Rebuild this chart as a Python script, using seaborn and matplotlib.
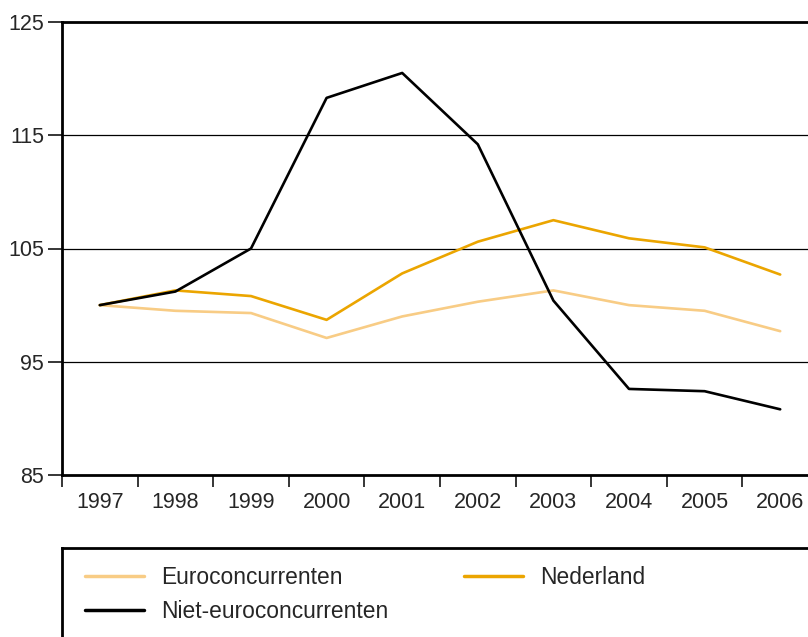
import numpy as np
import pandas as pd
import matplotlib
matplotlib.use("Agg")
import matplotlib.pyplot as plt
from matplotlib.lines import Line2D
import seaborn as sns

years = [1997, 1998, 1999, 2000, 2001, 2002, 2003, 2004, 2005, 2006]
euro = [100.0, 99.5, 99.3, 97.1, 99.0, 100.3, 101.3, 100.0, 99.5, 97.7]
nederland = [100.0, 101.3, 100.8, 98.7, 102.8, 105.6, 107.5, 105.9, 105.1, 102.7]
niet_euro = [100.0, 101.2, 105.0, 118.3, 120.5, 114.2, 100.4, 92.6, 92.4, 90.8]

series_names = ["Euroconcurrenten", "Nederland", "Niet-euroconcurrenten"]
colors = {"Euroconcurrenten": "#F8CC85",
          "Nederland": "#EBA500",
          "Niet-euroconcurrenten": "#000000"}

df = pd.DataFrame({"jaar": years * 3,
                   "index": euro + nederland + niet_euro,
                   "reeks": np.repeat(series_names, len(years))})

sns.set_style("white")
plt.rcParams['font.family'] = ['Liberation Sans', 'DejaVu Sans']

fig = plt.figure(figsize=(8.08, 6.37), dpi=100)
ax = fig.add_axes([62/808, 162/637, 756/808, 453/637])

sns.lineplot(data=df, x="jaar", y="index", hue="reeks", palette=colors,
             hue_order=series_names, linewidth=1.9, ax=ax, legend=False)

ax.set_xlim(1996.5, 2006.5)
ax.set_ylim(85, 125)
ax.set_yticks([85, 95, 105, 115, 125])
ax.set_xticks(years)
ax.set_xticks(np.arange(1996.5, 2007, 1), minor=True)
ax.tick_params(axis="x", which="major", bottom=False, length=0, pad=12,
               labelsize=15.5)
ax.tick_params(axis="x", which="minor", bottom=True, length=8.6, width=1.1,
               direction="out", color="black")
ax.tick_params(axis="y", left=True, length=10, width=1.1, direction="out",
               color="black", labelsize=15.5, pad=3)
ax.set_xlabel("")
ax.set_ylabel("")
for y in [95, 105, 115]:
    ax.axhline(y, color="black", linewidth=0.9, zorder=0)
for side in ["left", "bottom", "top"]:
    ax.spines[side].set_color("black")
    ax.spines[side].set_linewidth(2)
ax.spines["right"].set_visible(False)

# legend box, running off the right and bottom edge
lax = fig.add_axes([62/808, -0.2, 1.0, 0.2 + 89/637])
lax.set_xticks([])
lax.set_yticks([])
for side in lax.spines.values():
    side.set_color("black")
    side.set_linewidth(2)

order = ["Euroconcurrenten", "Niet-euroconcurrenten", "Nederland"]
handles = [Line2D([], [], color=colors[n], linewidth=2.5) for n in order]
fig.legend(handles, order, loc="upper left", ncol=2, frameon=False,
           bbox_to_anchor=(85/808, 1 - 566/637), bbox_transform=fig.transFigure,
           fontsize=16.4, handlelength=2.6, handletextpad=0.75,
           columnspacing=3.3, labelspacing=0.5, borderaxespad=0, borderpad=0)

fig.savefig("out.png", dpi=100)
